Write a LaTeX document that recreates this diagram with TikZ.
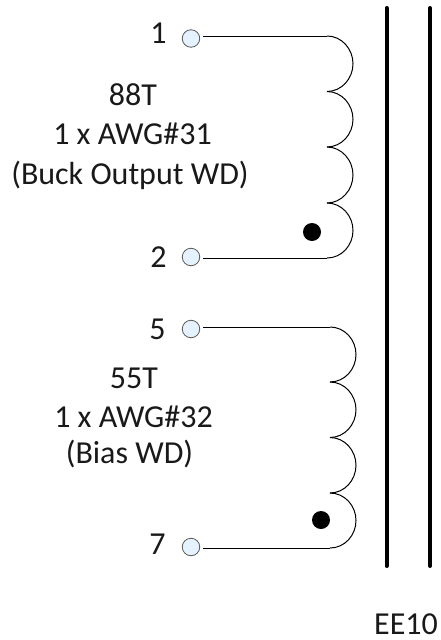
\documentclass[tikz,border=0pt]{standalone}
\usepackage{fontspec}
\setmainfont{Carlito}
\usetikzlibrary{calc}
\tikzset{
  pin/.style={circle,draw=black!65,line width=0.8pt,fill=blue!50!cyan!10,minimum size=17.5pt,inner sep=0pt},
  wire/.style={draw=black,line width=1pt},
  corebar/.style={draw=black,line width=4pt,line cap=round},
  phasedot/.style={circle,fill=black,minimum size=18pt,inner sep=0pt},
  lbl/.style={font=\fontsize{32}{32}\selectfont,inner sep=0pt,text=black!90,anchor=base},
  bump/.style={wire}
}
\newcommand{\coilbump}[2]{%
  \draw[bump] (#1) .. controls ($(#1)+(14.5,0)$) and ($(#1)!0.5!(#2)+(26,-15)$) .. ($(#1)!0.5!(#2)+(26,0)$)
     .. controls ($(#1)!0.5!(#2)+(26,15)$) and ($(#2)+(14.5,0)$) .. (#2);}
\begin{document}
\begin{tikzpicture}[x=1pt,y=-1pt]
\useasboundingbox (0,0) rectangle (440,640);
\node[pin] (p1) at (191,38.5) {};
\node[pin] (p2) at (191,257) {};
\node[pin] (p5) at (191,329) {};
\node[pin] (p7) at (191,547) {};
\node[lbl] (n1) at (158.5,43) {1};
\node[lbl] (n2) at (158.5,267) {2};
\node[lbl] (n5) at (157.5,339) {5};
\node[lbl] (n7) at (157.5,554) {7};
\node[lbl] (t1) at (133,105) {88T};
\node[lbl] (t2) at (132.5,144) {1 x AWG\#31};
\node[lbl] (t3) at (130,184) {(Buck Output WD)};
\node[lbl] (t4) at (134,388) {55T};
\node[lbl] (t5) at (133.5,427) {1 x AWG\#32};
\node[lbl] (t6) at (129.5,463) {(Bias WD)};
\node[lbl,anchor=base west] (ee) at (374,634) {EE10};
% upper winding
\coordinate (a0) at (327,36);
\coordinate (a1) at (327,91.5);
\coordinate (a2) at (327,147);
\coordinate (a3) at (327,203);
\coordinate (a4) at (327,258);
\coordinate (w1) at (203,36);
\coordinate (w2) at (203,258);
\draw[wire] (w1) -- (a0);
\draw[wire] (w2) -- (a4);
\coilbump{a0}{a1}\coilbump{a1}{a2}\coilbump{a2}{a3}\coilbump{a3}{a4}
% lower winding
\coordinate (b0) at (330,327);
\coordinate (b1) at (330,382);
\coordinate (b2) at (330,437.5);
\coordinate (b3) at (330,493);
\coordinate (b4) at (330,548);
\coordinate (w5) at (203,327);
\coordinate (w7) at (203,548);
\draw[wire] (w5) -- (b0);
\draw[wire] (w7) -- (b4);
\coilbump{b0}{b1}\coilbump{b1}{b2}\coilbump{b2}{b3}\coilbump{b3}{b4}
\node[phasedot] (d1) at (312,232) {};
\node[phasedot] (d2) at (321,520) {};
\coordinate (c1t) at (386.5,8);
\coordinate (c1b) at (386.5,566);
\coordinate (c2t) at (430,8);
\coordinate (c2b) at (430,566);
\draw[corebar] (c1t) -- (c1b);
\draw[corebar] (c2t) -- (c2b);
\end{tikzpicture}
\end{document}
